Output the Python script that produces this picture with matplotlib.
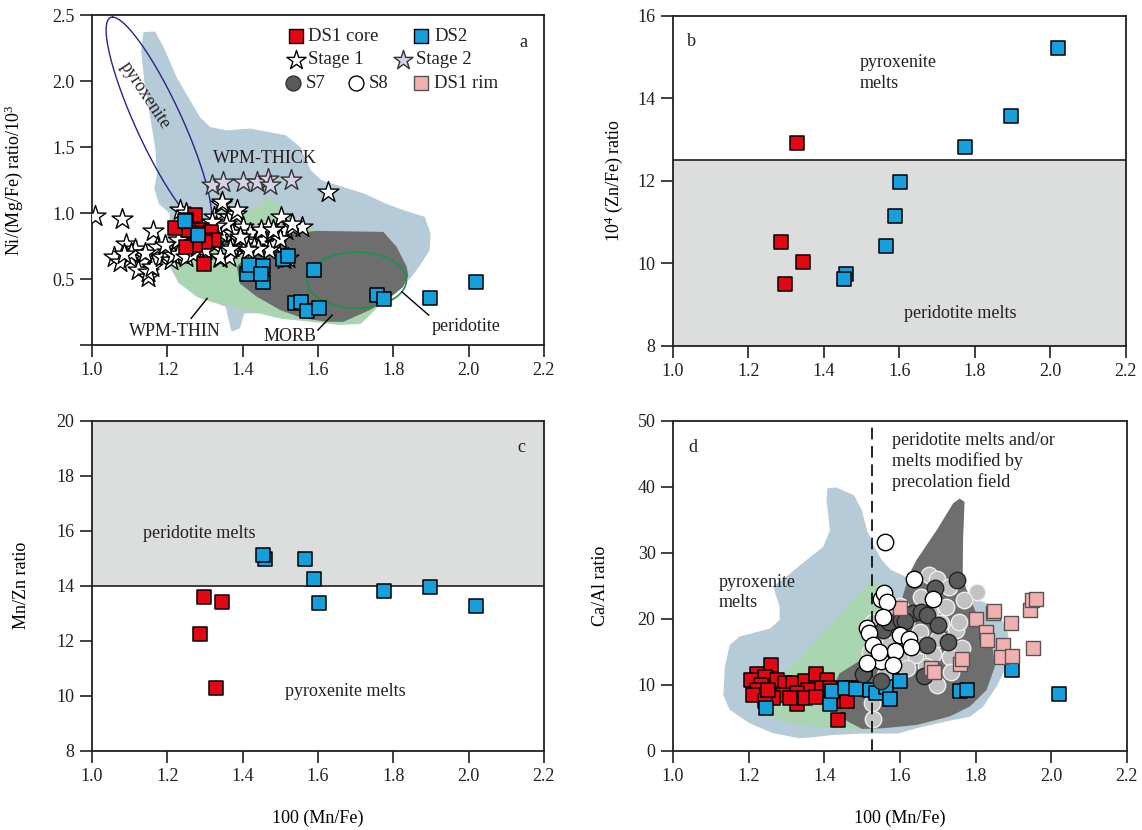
import numpy as np
import matplotlib.pyplot as plt
from matplotlib.patches import Polygon

# =================================
# STYLE
# =================================

plt.rcParams['font.family'] = ['Liberation Serif', 'DejaVu Serif']
plt.rcParams['mathtext.fontset'] = 'custom'
plt.rcParams['mathtext.rm'] = 'Liberation Serif'
plt.rcParams['mathtext.it'] = 'Liberation Serif'
plt.rcParams['font.size'] = 13
plt.rcParams['text.color'] = '#231f20'

RED = '#e30613'
BLUE = '#159fdc'
PINK = '#f2b1b1'
S7_GRAY = '#595959'
LIGHT_GRAY = '#c2c2c2'
LAVENDER = '#d8d2e6'
FIELD_BLUE = '#b6cbd8'
FIELD_GREEN = '#a9d6b1'
FIELD_GRAY = '#6e6e6e'
SHADE = '#dcdddd'

# =================================
# DATA - PANEL A  (Ni/(Mg/Fe) vs 100 Mn/Fe)
# =================================

a_core_x = [1.273, 1.249, 1.221, 1.259, 1.292, 1.316, 1.325, 1.301, 1.273, 1.249, 1.297, 1.282]
a_core_y = [0.983, 0.946, 0.888, 0.870, 0.875, 0.857, 0.794, 0.782, 0.756, 0.739, 0.613, 0.845]

a_ds2_x = [1.246, 1.281, 1.413, 1.417, 1.455, 1.455, 1.450, 1.508, 1.520, 1.591,
           1.538, 1.555, 1.572, 1.603, 1.758, 1.775, 1.897, 2.020]
a_ds2_y = [0.940, 0.832, 0.537, 0.605, 0.600, 0.479, 0.540, 0.648, 0.673, 0.567,
           0.315, 0.328, 0.260, 0.277, 0.378, 0.348, 0.353, 0.479]

stage1_x = [1.008, 1.080, 1.163, 1.090, 1.060, 1.075, 1.101, 1.115, 1.137, 1.123,
            1.150, 1.150, 1.160, 1.172, 1.186, 1.199, 1.211, 1.216, 1.230, 1.230,
            1.249, 1.268, 1.235, 1.250, 1.287, 1.306, 1.325, 1.339, 1.325, 1.344,
            1.363, 1.382, 1.344, 1.373, 1.401, 1.420, 1.439, 1.373, 1.363, 1.401,
            1.420, 1.458, 1.477, 1.501, 1.486, 1.515, 1.534, 1.557, 1.467, 1.448,
            1.355, 1.390, 1.410, 1.330, 1.300, 1.280, 1.195, 1.105, 1.085, 1.140,
            1.510, 1.627, 1.318, 1.430, 1.470, 1.500, 1.530, 1.520, 1.345, 1.385,
            1.482, 1.442, 1.415, 1.340, 1.367, 1.393]
stage1_y = [0.975, 0.958, 0.862, 0.769, 0.668, 0.630, 0.656, 0.731, 0.630, 0.567,
            0.517, 0.555, 0.592, 0.744, 0.668, 0.706, 0.643, 0.680, 0.693, 0.794,
            0.668, 0.693, 1.021, 1.000, 0.845, 0.794, 0.769, 0.656, 0.971, 1.072,
            0.971, 0.996, 0.845, 0.845, 0.895, 0.845, 0.794, 0.744, 0.668, 0.744,
            0.693, 0.794, 0.845, 0.971, 0.769, 0.870, 0.895, 0.895, 0.895, 0.870,
            0.920, 0.800, 0.780, 0.900, 0.720, 0.740, 0.760, 0.700, 0.690, 0.700,
            0.650, 1.160, 0.930, 0.740, 0.720, 0.800, 0.920, 0.660, 1.084, 1.021,
            0.870, 0.731, 0.719, 0.668, 0.731, 0.819]

stage2_x = [1.320, 1.349, 1.401, 1.439, 1.467, 1.474, 1.529]
stage2_y = [1.210, 1.235, 1.235, 1.235, 1.261, 1.210, 1.248]

# field outlines (panel a)
wpm_thick = [(1.137, 2.37), (1.168, 2.375), (1.19, 2.26), (1.225, 2.03), (1.261, 1.853),
             (1.287, 1.727), (1.314, 1.651), (1.358, 1.626), (1.42, 1.64), (1.515, 1.589),
             (1.553, 1.50), (1.581, 1.324), (1.61, 1.248), (1.666, 1.198), (1.723, 1.147),
             (1.78, 1.072), (1.828, 1.021), (1.884, 0.971), (1.899, 0.845), (1.897, 0.72),
             (1.875, 0.62), (1.849, 0.517), (1.80, 0.38), (1.70, 0.26), (1.55, 0.20),
             (1.45, 0.24), (1.405, 0.24), (1.393, 0.126), (1.371, 0.10), (1.355, 0.29),
             (1.28, 0.37), (1.23, 0.47), (1.208, 0.59), (1.205, 0.70), (1.207, 0.996),
             (1.178, 1.07), (1.166, 1.185), (1.173, 1.298), (1.169, 1.475), (1.155, 1.727),
             (1.14, 1.98), (1.131, 2.23)]
wpm_thin = [(1.471, 1.127), (1.517, 0.996), (1.579, 0.895), (1.65, 0.80), (1.74, 0.62),
            (1.775, 0.40), (1.77, 0.33), (1.75, 0.26), (1.714, 0.16), (1.657, 0.152),
            (1.60, 0.17), (1.50, 0.20), (1.43, 0.25), (1.37, 0.29), (1.30, 0.34),
            (1.278, 0.366), (1.234, 0.466), (1.208, 0.592), (1.212, 0.693), (1.243, 0.742),
            (1.323, 0.882), (1.438, 1.046)]
morb = [(1.385, 0.592), (1.429, 0.744), (1.526, 0.845), (1.597, 0.865), (1.774, 0.857),
        (1.809, 0.744), (1.836, 0.592), (1.84, 0.52), (1.826, 0.439), (1.80, 0.378),
        (1.738, 0.265), (1.668, 0.176), (1.624, 0.176), (1.561, 0.202), (1.50, 0.265),
        (1.438, 0.366), (1.393, 0.466)]

# ellipses: centre, conjugate semi-axes
pyrox_centre = (1.178, 1.684)
pyrox_axis1 = (-0.123, 0.800)
pyrox_axis2 = (0.067, 0.0)
perid_centre = (1.703, 0.492)
perid_axis1 = (0.0, 0.212)
perid_axis2 = (0.132, 0.0)

# =================================
# DATA - PANELS B AND C
# =================================

bc_core_x = [1.286, 1.298, 1.346, 1.329]
b_core_y = [10.51, 9.50, 10.04, 12.92]
c_core_y = [12.23, 13.60, 13.42, 10.27]

bc_ds2_x = [1.459, 1.454, 1.565, 1.590, 1.602, 1.775, 1.897, 2.020]
b_ds2_y = [9.74, 9.61, 10.42, 11.15, 11.97, 12.82, 13.58, 15.21]
c_ds2_y = [14.97, 15.12, 14.96, 14.23, 13.38, 13.82, 13.94, 13.26]

b_limit = 12.5
c_limit = 14.0

# =================================
# DATA - PANEL D  (Ca/Al vs 100 Mn/Fe)
# =================================

d_core_x = [1.260, 1.221, 1.243, 1.207, 1.234, 1.221, 1.212, 1.274, 1.296, 1.318,
            1.349, 1.379, 1.406, 1.384, 1.357, 1.327, 1.291, 1.265, 1.243, 1.327,
            1.309, 1.349, 1.414, 1.427, 1.459, 1.468, 1.437, 1.379, 1.252]
d_core_y = [13.0, 11.7, 11.2, 10.7, 9.95, 9.2, 8.5, 10.7, 10.2, 10.2,
            10.5, 11.7, 10.7, 9.45, 9.2, 8.7, 8.5, 8.0, 7.5, 7.1,
            8.0, 8.0, 9.45, 7.5, 7.5, 9.45, 4.65, 8.2, 9.2]

d_ds2_x = [1.247, 1.414, 1.420, 1.456, 1.485, 1.520, 1.538, 1.564, 1.573, 1.600,
           1.758, 1.777, 1.897, 2.021]
d_ds2_y = [6.5, 7.1, 9.0, 9.5, 9.4, 9.2, 8.7, 9.6, 7.9, 10.5,
           9.1, 9.2, 12.3, 8.6]

d_rim_x = [1.600, 1.683, 1.690, 1.758, 1.763, 1.800, 1.827, 1.830, 1.846, 1.850,
           1.873, 1.868, 1.894, 1.897, 1.944, 1.950, 1.960, 1.953]
d_rim_y = [21.6, 12.5, 11.9, 13.2, 13.9, 19.9, 18.0, 16.8, 20.8, 21.2,
           16.0, 14.2, 19.3, 14.4, 21.3, 22.9, 23.0, 15.6]

s7_x = [1.503, 1.550, 1.555, 1.570, 1.602, 1.635, 1.657, 1.671, 1.692, 1.750,
        1.700, 1.727, 1.671, 1.665, 1.614]
s7_y = [11.6, 10.6, 18.3, 19.5, 19.8, 20.8, 21.0, 20.5, 24.6, 25.8,
        19.0, 16.4, 16.0, 11.3, 19.6]

s8_x = [1.561, 1.638, 1.688, 1.550, 1.558, 1.565, 1.556, 1.512, 1.518, 1.530,
        1.599, 1.625, 1.630, 1.587, 1.550, 1.512, 1.582, 1.545]
s8_y = [31.7, 26.0, 23.0, 23.0, 23.9, 22.5, 20.3, 18.6, 17.8, 16.0,
        17.5, 17.0, 15.7, 15.1, 13.6, 13.3, 13.0, 15.0]

other_x = [1.677, 1.697, 1.730, 1.805, 1.769, 1.723, 1.656, 1.710, 1.749, 1.757,
           1.652, 1.687, 1.732, 1.764, 1.669, 1.697, 1.640, 1.600, 1.620, 1.575,
           1.525, 1.528, 1.560, 1.530, 1.520, 1.600, 1.620, 1.700, 1.735, 1.680,
           1.655, 1.580]
other_y = [26.6, 26.0, 24.8, 24.1, 22.9, 21.8, 23.3, 19.3, 18.3, 19.5,
           18.0, 14.7, 14.2, 15.5, 12.9, 10.0, 14.5, 14.0, 12.5, 16.5,
           7.3, 4.8, 11.4, 19.5, 15.0, 22.0, 20.0, 17.0, 12.0, 21.0,
           16.0, 18.5]

d_divider = 1.527

d_pyrox_field = [(1.408, 39.75), (1.431, 39.9), (1.479, 38.7), (1.499, 36.5), (1.513, 33.4),
                 (1.528, 31.4), (1.552, 28.9), (1.576, 27.4), (1.614, 26.4), (1.75, 24.0),
                 (1.855, 21.8), (1.886, 17.8), (1.882, 12.7), (1.855, 9.7), (1.82, 6.67),
                 (1.785, 5.15), (1.74, 4.65), (1.65, 3.5), (1.595, 2.6), (1.499, 2.6),
                 (1.42, 2.37), (1.364, 2.0), (1.335, 1.89), (1.265, 2.64), (1.203, 4.15),
                 (1.15, 6.2), (1.133, 8.4), (1.137, 12.7), (1.15, 16.0), (1.176, 17.3),
                 (1.256, 18.5), (1.282, 19.8), (1.282, 21.8), (1.265, 24.9), (1.30, 26.4),
                 (1.353, 28.9), (1.397, 30.9), (1.415, 33.4), (1.406, 38.0)]
d_green_field = [(1.529, 25.9), (1.55, 24.5), (1.565, 20.0), (1.56, 12.0), (1.55, 5.0),
                 (1.53, 3.2), (1.494, 3.15), (1.414, 3.39), (1.309, 4.15), (1.24, 5.5),
                 (1.25, 10.0), (1.309, 12.7), (1.362, 15.8), (1.423, 19.3), (1.485, 23.4)]
d_gray_field = [(1.758, 38.2), (1.771, 37.7), (1.767, 31.9), (1.766, 25.9), (1.802, 20.8),
                (1.842, 17.3), (1.851, 12.7), (1.829, 9.2), (1.785, 6.7), (1.732, 5.2),
                (1.644, 3.9), (1.555, 3.4), (1.50, 3.3), (1.46, 4.5), (1.42, 7.0),
                (1.415, 8.5), (1.44, 11.7), (1.49, 13.5), (1.55, 16.5), (1.60, 22.0),
                (1.626, 26.9), (1.644, 28.9), (1.697, 33.4), (1.741, 37.5)]

# =================================
# HELPERS
# =================================

SQ = 105
STAR = 250
XTICKS = [1.0, 1.2, 1.4, 1.6, 1.8, 2.0, 2.2]


def style_axes(ax, ylim, yticks, ylabels):
    ax.set_xlim(1.0, 2.2)
    ax.set_ylim(*ylim)
    ax.set_xticks(XTICKS)
    ax.set_xticklabels(['%.1f' % v for v in XTICKS])
    ax.set_yticks(yticks)
    ax.set_yticklabels(ylabels)
    ax.tick_params(direction='out', length=8.5, width=1.2, labelsize=13,
                   colors='#231f20', pad=4)
    for s in ax.spines.values():
        s.set_linewidth(1.3)
        s.set_color('#231f20')


def squares(ax, x, y, color, z=5):
    ax.scatter(x, y, s=SQ, marker='s', facecolor=color, edgecolor='black',
               linewidth=1.1, zorder=z)


def ellipse_curve(centre, ax1, ax2):
    t = np.linspace(0, 2 * np.pi, 200)
    x = centre[0] + ax1[0] * np.cos(t) + ax2[0] * np.sin(t)
    y = centre[1] + ax1[1] * np.cos(t) + ax2[1] * np.sin(t)
    return x, y


fig = plt.figure(figsize=(11.42, 8.30), dpi=100)

ax_a = fig.add_axes([0.0804, 0.5843, 0.3959, 0.3976])
ax_b = fig.add_axes([0.5892, 0.5835, 0.3964, 0.3976])
ax_c = fig.add_axes([0.0804, 0.0955, 0.3959, 0.3976])
ax_d = fig.add_axes([0.5893, 0.0955, 0.3974, 0.3976])

# =================================
# PANEL A
# =================================

ax_a.add_patch(Polygon(wpm_thick, closed=True, facecolor=FIELD_BLUE, edgecolor='none', zorder=1))
ax_a.add_patch(Polygon(wpm_thin, closed=True, facecolor=FIELD_GREEN, edgecolor='none', zorder=1.1))
ax_a.add_patch(Polygon(morb, closed=True, facecolor=FIELD_GRAY, edgecolor='none', zorder=1.2))

ex, ey = ellipse_curve(pyrox_centre, pyrox_axis1, pyrox_axis2)
ax_a.plot(ex, ey, color='#26268a', lw=1.0, zorder=2)
ex, ey = ellipse_curve(perid_centre, perid_axis1, perid_axis2)
ax_a.plot(ex, ey, color='#17944a', lw=1.2, zorder=2)

ax_a.scatter(stage1_x, stage1_y, s=STAR, marker='*', facecolor='white',
             edgecolor='black', linewidth=1.0, zorder=3)
ax_a.scatter(stage2_x, stage2_y, s=STAR, marker='*', facecolor=LAVENDER,
             edgecolor='#333333', linewidth=1.0, zorder=3)
squares(ax_a, a_core_x, a_core_y, RED, z=4)
squares(ax_a, a_ds2_x, a_ds2_y, BLUE, z=5)

ax_a.text(1.140, 1.89, 'pyroxenite', rotation=-56.5, ha='center', va='center', fontsize=13)
ax_a.text(1.46, 1.412, 'WPM-THICK', ha='center', va='center', fontsize=13)
ax_a.text(1.221, 0.10, 'WPM-THIN', ha='center', va='center', fontsize=13)
ax_a.text(1.526, 0.068, 'MORB', ha='center', va='center', fontsize=13)
ax_a.text(1.993, 0.144, 'peridotite', ha='center', va='center', fontsize=13)
ax_a.plot([1.2635, 1.306], [0.2017, 0.353], color='black', lw=1.0, zorder=6)
ax_a.plot([1.600, 1.638], [0.113, 0.227], color='black', lw=1.0, zorder=6)
ax_a.plot([1.894, 1.823], [0.227, 0.403], color='black', lw=1.0, zorder=6)

# legend drawn by hand (irregular 3-row layout)
leg = [
    (0.451, 0.936, 's', RED, 'black', 'DS1 core'),
    (0.729, 0.936, 's', BLUE, 'black', 'DS2'),
    (0.451, 0.864, '*', 'white', 'black', 'Stage 1'),
    (0.688, 0.864, '*', LAVENDER, '#333333', 'Stage 2'),
    (0.446, 0.793, 'o', S7_GRAY, '#333333', 'S7'),
    (0.585, 0.793, 'o', 'white', 'black', 'S8'),
    (0.729, 0.793, 's', PINK, '#555555', 'DS1 rim'),
]
for lx, ly, mk, fc, ec, name in leg:
    size = 210 if mk == '*' else 115
    ax_a.scatter([lx], [ly], s=size, marker=mk, facecolor=fc, edgecolor=ec,
                 linewidth=1.0, transform=ax_a.transAxes, zorder=7, clip_on=False)
    ax_a.text(lx + 0.028, ly, name, transform=ax_a.transAxes, ha='left',
              va='center', fontsize=13.5, zorder=7)
ax_a.text(0.955, 0.918, 'a', transform=ax_a.transAxes, ha='center', va='center', fontsize=13)

style_axes(ax_a, (0, 2.5), [0, 0.5, 1.0, 1.5, 2.0, 2.5],
           ['', '0.5', '1.0', '1.5', '2.0', '2.5'])
ax_a.set_ylabel('Ni/(Mg/Fe) ratio/10$^3$', fontsize=13)
ax_a.yaxis.set_label_coords(-0.148, 0.5)

# =================================
# PANEL B
# =================================

ax_b.axhspan(8, b_limit, facecolor=SHADE, edgecolor='none', zorder=0)
ax_b.axhline(b_limit, color='#231f20', lw=1.2, zorder=1)
squares(ax_b, bc_core_x, b_core_y, RED)
squares(ax_b, bc_ds2_x, b_ds2_y, BLUE)
ax_b.text(0.032, 0.921, 'b', transform=ax_b.transAxes, ha='left', va='center', fontsize=13)
ax_b.text(0.413, 0.8265, 'pyroxenite\nmelts', transform=ax_b.transAxes, ha='left',
          va='center', fontsize=13, linespacing=1.25)
ax_b.text(0.51, 0.098, 'peridotite melts', transform=ax_b.transAxes, ha='left',
          va='center', fontsize=13)
style_axes(ax_b, (8, 16), [8, 10, 12, 14, 16], ['8', '10', '12', '14', '16'])
ax_b.set_ylabel('10$^4$ (Zn/Fe) ratio', fontsize=13)
ax_b.yaxis.set_label_coords(-0.106, 0.5)

# =================================
# PANEL C
# =================================

ax_c.axhspan(c_limit, 20, facecolor=SHADE, edgecolor='none', zorder=0)
ax_c.axhline(c_limit, color='#231f20', lw=1.2, zorder=1)
squares(ax_c, bc_core_x, c_core_y, RED)
squares(ax_c, bc_ds2_x, c_ds2_y, BLUE)
ax_c.text(0.95, 0.918, 'c', transform=ax_c.transAxes, ha='center', va='center', fontsize=13)
ax_c.text(0.113, 0.659, 'peridotite melts', transform=ax_c.transAxes, ha='left',
          va='center', fontsize=13)
ax_c.text(0.427, 0.181, 'pyroxenite melts', transform=ax_c.transAxes, ha='left',
          va='center', fontsize=13)
style_axes(ax_c, (8, 20), [8, 10, 12, 14, 16, 18, 20],
           ['8', '10', '12', '14', '16', '18', '20'])
ax_c.set_ylabel('Mn/Zn ratio', fontsize=13)
ax_c.yaxis.set_label_coords(-0.137, 0.5)
ax_c.set_xlabel('100 (Mn/Fe)', fontsize=13)
ax_c.xaxis.set_label_coords(0.5, -0.18)

# =================================
# PANEL D
# =================================

ax_d.add_patch(Polygon(d_pyrox_field, closed=True, facecolor=FIELD_BLUE, edgecolor='none', zorder=1))
ax_d.add_patch(Polygon(d_green_field, closed=True, facecolor=FIELD_GREEN, edgecolor='none', zorder=1.1))
ax_d.add_patch(Polygon(d_gray_field, closed=True, facecolor=FIELD_GRAY, edgecolor='none', zorder=1.2))

ax_d.scatter(other_x, other_y, s=140, marker='o', facecolor=LIGHT_GRAY,
             edgecolor='#eeeeee', linewidth=1.0, zorder=2)
ax_d.axvline(d_divider, color='black', lw=1.2, dashes=(7, 4), zorder=2.5)
squares(ax_d, d_core_x, d_core_y, RED, z=3)
squares(ax_d, d_ds2_x, d_ds2_y, BLUE, z=3.5)
ax_d.scatter(s7_x, s7_y, s=140, marker='o', facecolor=S7_GRAY,
             edgecolor='#222222', linewidth=1.0, zorder=4)
ax_d.scatter(s8_x, s8_y, s=140, marker='o', facecolor='white',
             edgecolor='black', linewidth=1.0, zorder=4.5)
ax_d.scatter(d_rim_x, d_rim_y, s=SQ, marker='s', facecolor=PINK,
             edgecolor='#555555', linewidth=1.0, zorder=4.2)

ax_d.text(0.034, 0.918, 'd', transform=ax_d.transAxes, ha='left', va='center', fontsize=13)
ax_d.text(0.4815, 0.876, 'peridotite melts and/or\nmelts modified by\nprecolation field',
          transform=ax_d.transAxes, ha='left', va='center', fontsize=13, linespacing=1.25)
ax_d.text(0.10, 0.48, 'pyroxenite\nmelts', transform=ax_d.transAxes, ha='left',
          va='center', fontsize=13, linespacing=1.25)
style_axes(ax_d, (0, 50), [0, 10, 20, 30, 40, 50], ['0', '10', '20', '30', '40', '50'])
ax_d.set_ylabel('Ca/Al ratio', fontsize=13)
ax_d.yaxis.set_label_coords(-0.141, 0.5)
ax_d.set_xlabel('100 (Mn/Fe)', fontsize=13)
ax_d.xaxis.set_label_coords(0.5, -0.18)

fig.savefig('out.png', dpi=100)
